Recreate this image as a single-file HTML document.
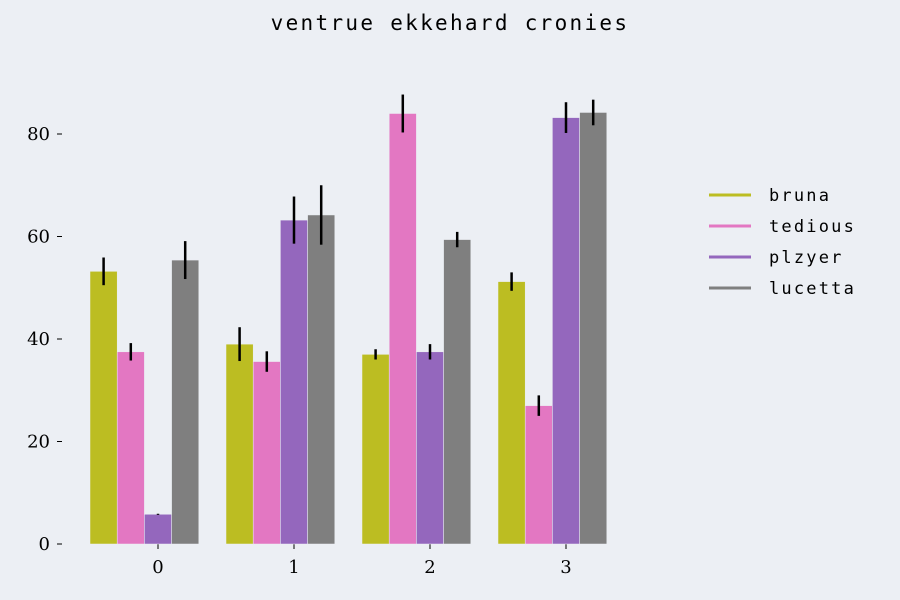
<!DOCTYPE html>
<html><head><meta charset="utf-8"><style>
body{margin:0;background:#eceff4;}
svg{display:block;}
</style></head><body>
<svg id="chart" width="900" height="600" xmlns="http://www.w3.org/2000/svg">
<rect width="900" height="600" fill="#eceff4"/>
<text x="450" y="30" text-anchor="middle" font-family="'DejaVu Sans Mono','Liberation Mono',monospace" font-size="21" letter-spacing="2.3" fill="#000">ventrue ekkehard cronies</text>
<g id="yaxis"></g>
<g id="xaxis"></g>
<g id="bars"></g>
<g id="legend"></g>
</svg>
<script>
const categories = ["0","1","2","3"];
const seriesNames = ["bruna","tedious","plzyer","lucetta"];
const seriesColors = ["#bcbd22","#e377c2","#9467bd","#7f7f7f"];
const bruna = [53.2, 39.0, 37.0, 51.2];
const tedious = [37.5, 35.6, 84.0, 27.0];
const plzyer = [5.8, 63.2, 37.5, 83.2];
const lucetta = [55.4, 64.2, 59.4, 84.2];
const brunaErr = [2.7, 3.3, 1.0, 1.8];
const tediousErr = [1.7, 2.0, 3.7, 2.0];
const plzyerErr = [0.1, 4.6, 1.5, 3.0];
const lucettaErr = [3.7, 5.8, 1.5, 2.5];
const yTicks = [0, 20, 40, 60, 80];

const values = [bruna, tedious, plzyer, lucetta];
const errs = [brunaErr, tediousErr, plzyerErr, lucettaErr];
const NS = "http://www.w3.org/2000/svg";
const y = v => 544 - v * 5.125;
const x = i => 158 + i * 136;
const barW = 27.2;
function mk(tag, attrs, parent){const e=document.createElementNS(NS,tag);for(const k in attrs)e.setAttribute(k,attrs[k]);parent.appendChild(e);return e;}
const yg=document.getElementById('yaxis'), xg=document.getElementById('xaxis'), bg=document.getElementById('bars'), lg=document.getElementById('legend');
yTicks.forEach(t=>{
  const l=mk('line',{x1:57,x2:62,y1:y(t),y2:y(t),stroke:'#000','stroke-width':1},yg);
  
  
  const tx=mk('text',{x:50,y:y(t)+6,'text-anchor':'end','font-family':"'DejaVu Serif','Liberation Serif',serif",'font-size':18},yg);
  tx.textContent=t;
  
  
});
categories.forEach((c,i)=>{
  const l=mk('line',{x1:x(i),x2:x(i),y1:544,y2:549,stroke:'#000','stroke-width':1},xg);
  
  
  const tx=mk('text',{x:x(i),y:573,'text-anchor':'middle','font-family':"'DejaVu Serif','Liberation Serif',serif",'font-size':18},xg);
  tx.textContent=c;
  
  
});
values.forEach((arr,s)=>{
  arr.forEach((v,i)=>{
    const cx = x(i) + (s-2)*barW;
    const r=mk('rect',{x:cx-barW/2,y:y(v),width:barW,height:544-y(v),fill:seriesColors[s],stroke:'#eceff4','stroke-width':0.5},bg);
    
    
    const e=mk('line',{x1:cx,x2:cx,y1:y(v+errs[s][i]),y2:y(v-errs[s][i]),stroke:'#000','stroke-width':2.5},bg);
    
    
  });
});
seriesNames.forEach((n,s)=>{
  const ly=195+s*31;
  const l=mk('line',{x1:709,x2:751,y1:ly,y2:ly,stroke:seriesColors[s],'stroke-width':3},lg);
  
  
  const tx=mk('text',{x:769,y:ly+6,'font-family':"'DejaVu Sans Mono','Liberation Mono',monospace",'font-size':17,'letter-spacing':2.2},lg);
  tx.textContent=n;
  
  
});
</script>
</body></html>
